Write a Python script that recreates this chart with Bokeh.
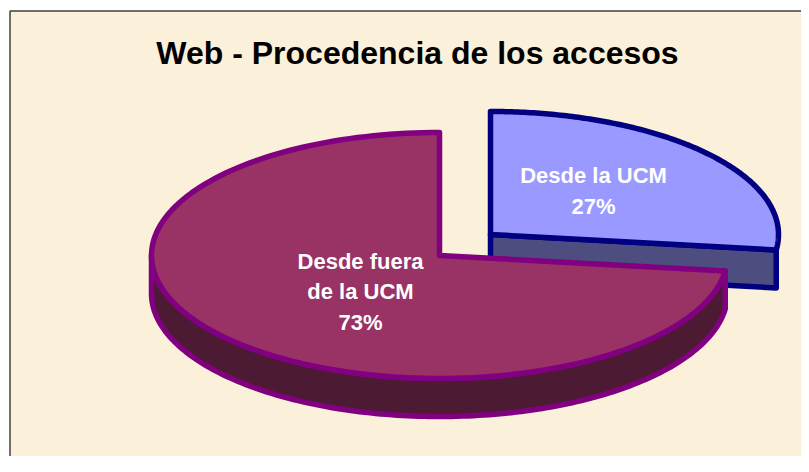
from bokeh.plotting import figure
from bokeh.embed import file_html
from bokeh.resources import INLINE
from bokeh.models import Range1d
from bokeh.core.properties import value
import numpy as np

title = "Web - Procedencia de los accesos"
categories = ["Desde la UCM", "Desde fuera de la UCM"]
percents = [27, 73]
label_lines = [["Desde la UCM", "27%"], ["Desde fuera", "de la UCM", "73%"]]

W, H = 801, 456
p = figure(width=W, height=H, output_backend="svg", toolbar_location=None,
           x_range=Range1d(0, W), y_range=Range1d(H, 0),
           min_border=0, outline_line_color=None,
           background_fill_color="#FFFFFF", border_fill_color="#FFFFFF")
p.axis.visible = False
p.grid.visible = False

# parchment backdrop: a smooth, soft mottling of the panel colour (decoration only)
p.quad(left=[9.5], right=[830], top=[10.5], bottom=[500], fill_color="#FBF0DA", line_color=None)
tw, th = 200, 112
gx, gy = np.meshgrid(np.linspace(0, 1, tw), np.linspace(0, 1, th))
m = (np.sin(gx * 19 + 1.1) * np.sin(gy * 13 + 0.4)
     + 0.7 * np.sin(gx * 37 + gy * 11 + 2.3)
     + 0.6 * np.sin(gy * 41 - gx * 17 + 0.9))
rgba = np.zeros((th, tw), dtype=np.uint32)
v = rgba.view(np.uint8).reshape((th, tw, 4))
v[..., 0] = np.clip(251 + m * 0.8, 0, 255)
v[..., 1] = np.clip(240 + m * 1.6, 0, 255)
v[..., 2] = np.clip(218 + m * 3.5, 0, 255)
v[..., 3] = 255
p.image_rgba(image=[rgba], x=[10], y=[456], dw=[791], dh=[445])
p.quad(left=[9.5], right=[830], top=[10.5], bottom=[500], fill_color=None,
       line_color="#404040", line_width=1.5)

CX, CY, RX, RY, D = 439.0, 255.0, 288.0, 123.0, 38.0
EX, EY = 51.0, -21.0
LW = 5.5

def arc(t0, t1, cx, cy):
    t = np.linspace(t0, t1, 160)
    return cx + RX * np.sin(t), cy - RY * np.cos(t)

split = 2 * np.pi * percents[0] / sum(percents)

# exploded blue slice
bx, by = CX + EX, CY + EY
ax_, ay_ = arc(0, split, bx, by)
fx = [bx, ax_[-1], ax_[-1], bx]
fy = [by, ay_[-1], ay_[-1] + D, by + D]
p.patch(fx, fy, fill_color="#4D4D80", line_color="#000080", line_width=LW, line_join="round")
p.patch(np.r_[bx, ax_], np.r_[by, ay_], fill_color="#9999FF", line_color="#000080",
        line_width=LW, line_join="round")

# maroon slice
mx, my = arc(split, 2 * np.pi, CX, CY)
sx, sy = arc(split, 1.5 * np.pi, CX, CY)
p.patch(np.r_[sx, sx[::-1]], np.r_[sy, sy[::-1] + D], fill_color="#4D1A33",
        line_color="#800080", line_width=LW, line_join="round")
p.patch(np.r_[CX, mx], np.r_[CY, my], fill_color="#993366", line_color="#800080",
        line_width=LW, line_join="round")

# texts
p.text([417], [52], text=[title], text_font=value("Liberation Sans"), text_font_style="bold",
       text_font_size="32px", text_align="center", text_baseline="middle", text_color="#000000")
for lines, cx, ys in zip(label_lines, [593, 360], [[175, 206], [261, 291, 322]]):
    p.text([cx] * len(lines), ys, text=lines, text_font=value("Liberation Sans"),
           text_font_style="bold", text_font_size="22px", text_align="center",
           text_baseline="middle", text_color="#FFFFFF")

open("out.html", "w").write(file_html(p, INLINE))
